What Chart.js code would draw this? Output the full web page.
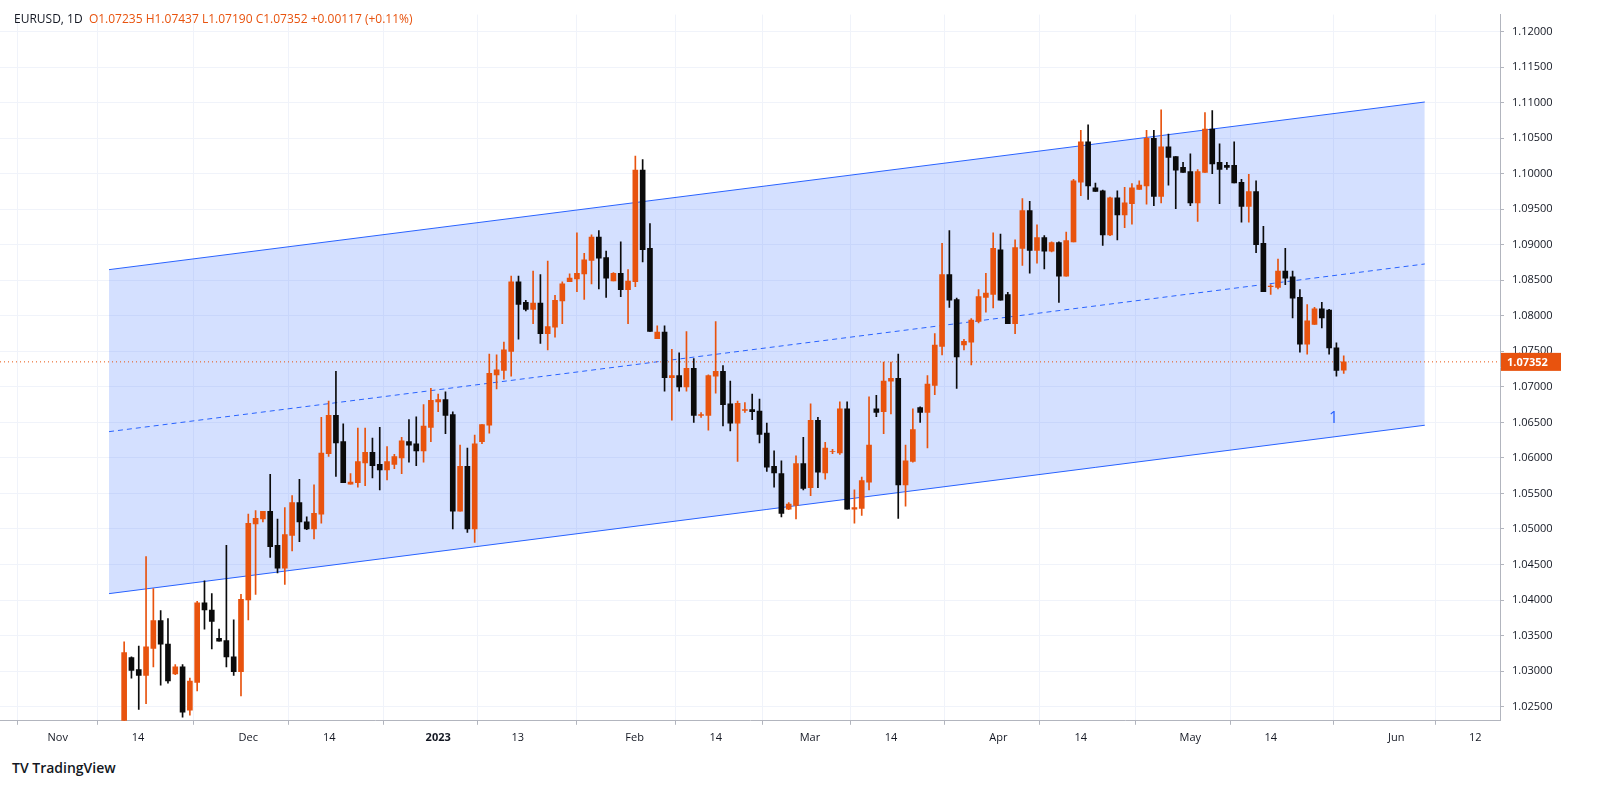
<!DOCTYPE html>
<html><head><meta charset="utf-8">
<script src="https://cdn.jsdelivr.net/npm/chart.js@4"></script>
<style>
body{margin:0;background:#fff;font-family:"Open Sans",Roboto,sans-serif;}
#wrap{position:absolute;left:0;top:0;width:1613px;height:750px;}
#hdr{position:absolute;left:14px;top:10px;font-size:12px;color:#131722;}
#hdr span{color:#e8530e;}
#logo{position:absolute;left:12px;top:758px;font-size:14px;color:#131722;font-weight:600;}
</style></head><body>
<div id="wrap"><canvas id="c" width="1613" height="750"></canvas></div>
<div id="hdr">EURUSD, 1D&nbsp; <span>O1.07235 H1.07437 L1.07190 C1.07352 +0.00117 (+0.11%)</span></div>
<div id="logo">TV TradingView</div>
<script>
// candles: [open, high, low, close]
const opens=[1.0210,1.0319,1.0302,1.0294,1.0332,1.0371,1.0338,1.0296,1.0306,1.0245,1.0284,1.0396,1.0386,1.0346,1.0343,1.0320,1.0299,1.0400,1.0507,1.0514,1.0525,1.0477,1.0445,1.0491,1.0537,1.0510,1.0500,1.0521,1.0606,1.0660,
1.0623,1.0563,1.0565,1.0593,1.0608,1.0591,1.0583,1.0591,1.0600,1.0623,1.0620,1.0610,1.0643,1.0679,1.0682,1.0661,1.0525,1.0588,1.0500,1.0623,1.0646,1.0717,1.0723,1.0750,1.0848,1.0819,1.0809,1.0818,1.0775,1.0784,
1.0821,1.0848,1.0852,1.0859,1.0878,1.0911,1.0882,1.0849,1.0860,1.0837,1.0848,1.1005,1.0895,1.0768,1.0777,1.0713,1.0716,1.0700,1.0726,1.0660,1.0660,1.0715,1.0722,1.0676,1.0649,1.0667,1.0668,1.0666,1.0635,1.0588,
1.0578,1.0528,1.0533,1.0592,1.0558,1.0653,1.0579,1.0609,1.0607,1.0669,1.0528,1.0529,1.0566,1.0669,1.0665,1.0708,1.0712,1.0562,1.0595,1.0671,1.0664,1.0702,1.0757,1.0858,1.0823,1.0759,1.0763,1.0792,1.0826,1.0830,
1.0893,1.0830,1.0789,1.0895,1.0948,1.0892,1.0910,1.0891,1.0903,1.0856,1.0904,1.0988,1.1045,1.0980,1.0976,1.0914,1.0966,1.0942,1.0958,1.0978,1.0983,1.1050,1.0968,1.1038,1.1024,1.1009,1.1003,1.0959,1.1002,1.1063,
1.1016,1.1012,1.1012,1.0988,1.0954,1.0975,1.0902,1.0841,1.0840,1.0863,1.0855,1.0826,1.0760,1.0788,1.0810,1.0808,1.0755,1.07235];
const highs=[1.0341,1.0320,1.0335,1.0461,1.0416,1.0385,1.0374,1.0309,1.0309,1.0290,1.0398,1.0427,1.0409,1.0359,1.0477,1.0372,1.0408,1.0521,1.0526,1.0525,1.0577,1.0514,1.0530,1.0547,1.0570,1.0517,1.0562,1.0657,1.0680,1.0722,
1.0648,1.0578,1.0642,1.0642,1.0628,1.0643,1.0616,1.0605,1.0629,1.0654,1.0658,1.0675,1.0698,1.0690,1.0693,1.0665,1.0618,1.0614,1.0632,1.0647,1.0746,1.0745,1.0763,1.0856,1.0856,1.0822,1.0863,1.0858,1.0877,1.0829,
1.0848,1.0859,1.0917,1.0888,1.0914,1.0920,1.0891,1.0861,1.0904,1.0865,1.1025,1.1020,1.0930,1.0786,1.0786,1.0753,1.0748,1.0778,1.0740,1.0664,1.0717,1.0792,1.0730,1.0708,1.0680,1.0678,1.0690,1.0683,1.0649,1.0610,
1.0596,1.0537,1.0603,1.0629,1.0676,1.0657,1.0622,1.0612,1.0679,1.0679,1.0555,1.0573,1.0686,1.0688,1.0735,1.0735,1.0746,1.0618,1.0669,1.0672,1.0716,1.0775,1.0902,1.0920,1.0825,1.0767,1.0796,1.0837,1.0860,1.0917,
1.0915,1.0833,1.0907,1.0965,1.0961,1.0928,1.0913,1.0904,1.0904,1.0918,1.0992,1.1061,1.1069,1.0987,1.0977,1.0967,1.0976,1.0981,1.0986,1.0990,1.1061,1.1061,1.1090,1.1056,1.1024,1.1016,1.1028,1.1006,1.1086,1.1089,
1.1042,1.1016,1.1045,1.0992,1.0999,1.0990,1.0926,1.0844,1.0880,1.0895,1.0863,1.0837,1.0816,1.0812,1.0819,1.0809,1.0762,1.07437];
const lows=[1.0200,1.0290,1.0246,1.0254,1.0306,1.0280,1.0283,1.0295,1.0235,1.0238,1.0272,1.0359,1.0331,1.0342,1.0306,1.0294,1.0265,1.0372,1.0408,1.0510,1.0460,1.0438,1.0422,1.0469,1.0482,1.0499,1.0486,1.0508,1.0602,1.0574,
1.0565,1.0563,1.0559,1.0561,1.0572,1.0555,1.0569,1.0585,1.0578,1.0594,1.0589,1.0594,1.0623,1.0665,1.0634,1.0500,1.0525,1.0495,1.0481,1.0620,1.0635,1.0697,1.0711,1.0715,1.0767,1.0807,1.0789,1.0761,1.0752,1.0770,
1.0789,1.0848,1.0834,1.0823,1.0845,1.0838,1.0826,1.0849,1.0827,1.0789,1.0841,1.0876,1.0778,1.0768,1.0694,1.0653,1.0694,1.0694,1.0650,1.0657,1.0639,1.0691,1.0645,1.0638,1.0595,1.0664,1.0654,1.0621,1.0581,1.0559,
1.0517,1.0527,1.0514,1.0555,1.0547,1.0558,1.0570,1.0606,1.0605,1.0528,1.0508,1.0519,1.0555,1.0658,1.0634,1.0662,1.0515,1.0532,1.0594,1.0650,1.0614,1.0689,1.0745,1.0812,1.0698,1.0752,1.0731,1.0790,1.0805,1.0811,
1.0822,1.0789,1.0775,1.0871,1.0860,1.0874,1.0866,1.0890,1.0819,1.0856,1.0904,1.0969,1.0964,1.0975,1.0899,1.0913,1.0907,1.0924,1.0929,1.0978,1.0957,1.0955,1.0959,1.0984,1.0951,1.1002,1.0955,1.0933,1.1002,1.1000,
1.0958,1.1006,1.0987,1.0932,1.0932,1.0889,1.0834,1.0830,1.0838,1.0844,1.0797,1.0749,1.0746,1.0788,1.0783,1.0746,1.0715,1.07190];
const closes=[1.0326,1.0301,1.0294,1.0334,1.0371,1.0338,1.0286,1.0306,1.0242,1.0286,1.0396,1.0386,1.0370,1.0342,1.0320,1.0299,1.0401,1.0508,1.0515,1.0525,1.0475,1.0445,1.0492,1.0537,1.0510,1.0500,1.0522,1.0607,1.0660,1.0621,
1.0565,1.0566,1.0595,1.0608,1.0589,1.0583,1.0595,1.0602,1.0624,1.0618,1.0610,1.0645,1.0681,1.0682,1.0660,1.0525,1.0588,1.0500,1.0620,1.0647,1.0719,1.0724,1.0752,1.0848,1.0816,1.0809,1.0818,1.0775,1.0785,1.0822,
1.0845,1.0853,1.0860,1.0879,1.0911,1.0881,1.0853,1.0860,1.0837,1.0849,1.1005,1.0893,1.0778,1.0777,1.0713,1.0716,1.0700,1.0726,1.0660,1.0661,1.0716,1.0722,1.0675,1.0649,1.0677,1.0668,1.0665,1.0633,1.0587,1.0579,
1.0522,1.0535,1.0592,1.0557,1.0653,1.0580,1.0614,1.0609,1.0669,1.0528,1.0530,1.0568,1.0618,1.0664,1.0708,1.0712,1.0562,1.0596,1.0640,1.0664,1.0704,1.0759,1.0858,1.0822,1.0742,1.0764,1.0794,1.0827,1.0832,1.0895,
1.0822,1.0789,1.0896,1.0948,1.0892,1.0910,1.0891,1.0903,1.0856,1.0906,1.0990,1.1045,1.0983,1.0975,1.0914,1.0966,1.0942,1.0959,1.0980,1.0984,1.1050,1.0968,1.1038,1.1023,1.1005,1.1002,1.0959,1.1003,1.1063,1.1014,
1.1006,1.1009,1.0987,1.0954,1.0975,1.0900,1.0834,1.0842,1.0863,1.0853,1.0825,1.0760,1.0793,1.0810,1.0797,1.0755,1.0723,1.07352];
// x-axis tick labels at bar index positions
const tickIdx=[-9.1,1.9,17,28.1,43,53.9,69.9,81,93.9,105,119.7,131,146,157,174.2,185];
const tickNames=["Nov","14","Dec","14","2023","13","Feb","14","Mar","14","Apr","14","May","14","Jun","12"];
// regression channel endpoints [index, price]
const chanX=[-2.07,178.1];
const chanUpper=[1.0865,1.1101];
const chanMid=[1.0637,1.0873];
const chanLower=[1.0409,1.0646];
const lastPrice=1.07352;

const UP='#e8530e', DN='#0b0b0b';
const body=[],wick=[],bc=[];
for(let i=0;i<opens.length;i++){
  body.push({x:i,y:[opens[i],closes[i]===opens[i]?closes[i]+0.00003:closes[i]]});
  wick.push({x:i,y:[lows[i],highs[i]]});
  bc.push(closes[i]>=opens[i]?UP:DN);
}
const pts=a=>chanX.map((x,i)=>({x,y:a[i]}));

const priceLabel={id:'pl',afterDraw(ch){
  const y=ch.scales.y.getPixelForValue(lastPrice), x=ch.chartArea.right+1, c=ch.ctx;
  c.save();c.fillStyle=UP;c.fillRect(x,y-9,60,18);
  c.fillStyle='#fff';c.font='bold 11px "Open Sans"';c.textBaseline='middle';
  c.fillText(lastPrice.toFixed(5),x+6,y+1);
  const s=ch.scales.x;c.fillStyle='#2962ff';c.font='16px "Open Sans"';
  c.fillText('1',s.getPixelForValue(165),ch.scales.y.getPixelForValue(1.0656));
  c.restore();
}};
new Chart(document.getElementById('c'),{
  type:'bar',
  data:{datasets:[
    {type:'line',data:pts(chanUpper),borderColor:'#2962ff',borderWidth:1,pointRadius:0,fill:{target:2},backgroundColor:'rgba(41,98,255,0.2)',order:5},
    {type:'line',data:pts(chanMid),borderColor:'#2962ff',borderWidth:1,borderDash:[5,4],pointRadius:0,fill:false,order:5},
    {type:'line',data:pts(chanLower),borderColor:'#2962ff',borderWidth:1,pointRadius:0,fill:false,order:5},
    {type:'line',data:[{x:-17,y:lastPrice},{x:188.4,y:lastPrice}],borderColor:UP,borderWidth:1,borderDash:[1,3],pointRadius:0,fill:false,order:4},
    {data:wick,backgroundColor:bc,barThickness:1,grouped:false,order:2},
    {data:body,backgroundColor:bc,barThickness:5,grouped:false,order:1}
  ]},
  options:{responsive:false,animation:false,
    layout:{padding:{left:0,top:0,right:0,bottom:0}},
    plugins:{legend:{display:false},tooltip:{enabled:false}},
    scales:{
      x:{type:'linear',min:-17,max:188.4,offset:false,
        afterBuildTicks:s=>{s.ticks=tickIdx.map(v=>({value:v}));},
        ticks:{autoSkip:false,maxRotation:0,color:'#131722',padding:6,
          font:c=>({family:'"Open Sans"',size:11,weight:(c.tick&&c.tick.value===43)?'bold':'normal'}),
          callback:(v)=>{const k=tickIdx.indexOf(v);return k>=0?tickNames[k]:'';}},
        grid:{color:'#f0f3fa',drawTicks:true,tickLength:4,tickColor:'#b2b5be'},border:{color:'#b2b5be'}},
      y:{position:'right',min:1.0230,max:1.1224,
        afterBuildTicks:s=>{const t=[];for(let v=1.025;v<=1.1201;v+=0.005)t.push({value:+v.toFixed(3)});s.ticks=t;},
        afterFit:s=>{s.width=113;},
        ticks:{color:'#131722',font:{family:'"Open Sans"',size:11},padding:8,callback:v=>v.toFixed(5)},
        grid:{color:'#f0f3fa',tickLength:4,tickColor:'#b2b5be'},border:{color:'#b2b5be'}}
    }},
  plugins:[priceLabel]
});
</script>
</body></html>
